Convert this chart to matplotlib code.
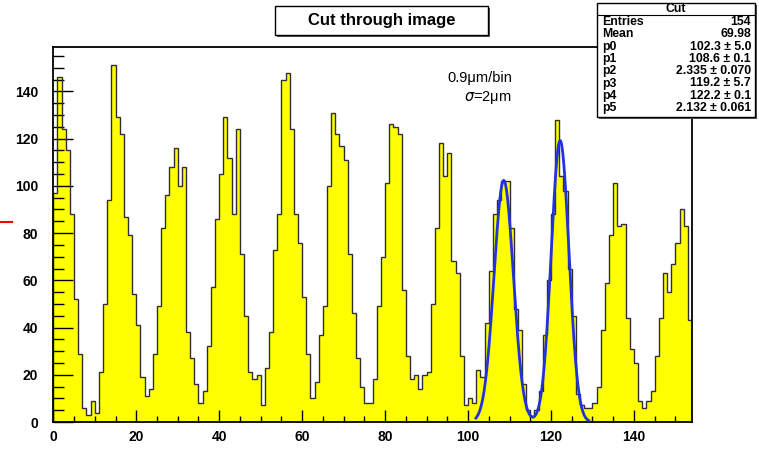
import numpy as np
import matplotlib
matplotlib.use("Agg")
import matplotlib.pyplot as plt
from matplotlib.patches import Rectangle
from matplotlib.lines import Line2D
from matplotlib.ticker import MultipleLocator

# ---------------- data ----------------
bin_edges = np.arange(0, 155, 1)  # 154 bins of width 1
counts = [97, 146, 124, 115, 88, 52, 29, 6, 3, 9,
          4, 21, 50, 94, 151, 129, 122, 87, 79, 54,
          41, 19, 11, 14, 29, 49, 82, 96, 108, 116,
          100, 108, 38, 27, 16, 8, 13, 32, 57, 86,
          105, 129, 112, 88, 124, 71, 45, 21, 18, 20,
          7, 23, 38, 73, 88, 145, 148, 124, 88, 76,
          53, 29, 10, 17, 37, 49, 100, 131, 122, 117,
          111, 71, 46, 27, 15, 8, 8, 18, 49, 70,
          101, 126, 125, 122, 56, 28, 18, 20, 14, 20,
          21, 50, 82, 118, 104, 114, 68, 63, 28, 7,
          10, 8, 22, 19, 42, 64, 88, 94, 102, 102,
          82, 48, 39, 16, 5, 2, 5, 13, 37, 60,
          88, 128, 104, 98, 65, 45, 12, 7, 6, 6,
          8, 15, 39, 59, 79, 101, 83, 84, 44, 31,
          25, 9, 6, 9, 13, 28, 44, 63, 55, 67,
          76, 90, 83, 43]

fit_params = [102.3, 108.6, 2.335, 119.2, 122.2, 2.132]
fit_range = [101.9, 129.1]

xticks = [0, 20, 40, 60, 80, 100, 120, 140]
yticks = [0, 20, 40, 60, 80, 100, 120, 140]

stat_labels = ["Entries", "Mean", "p0", "p1", "p2", "p3", "p4", "p5"]
stat_values = ["154", "69.98", "102.3 \u00b1 5.0", "108.6 \u00b1 0.1",
               "2.335 \u00b1 0.070", "119.2 \u00b1 5.7", "122.2 \u00b1 0.1",
               "2.132 \u00b1 0.061"]

# ---------------- figure ----------------
plt.rcParams['font.family'] = ['Liberation Sans', 'DejaVu Sans']
W, H = 759, 450
fig = plt.figure(figsize=(W / 100, H / 100), dpi=100, facecolor='white')

def fx(px):
    return px / W

def fy(py):
    return 1 - py / H

ax = fig.add_axes([fx(53.3), fy(422), fx(692) - fx(53.3), fy(47) - fy(422)])
ax.set_facecolor('white')

ax.stairs(counts, bin_edges, fill=True, facecolor='#ffff00', edgecolor='none', zorder=1)
ax.stairs(counts, bin_edges, baseline=0, fill=False, edgecolor='#303030', lw=1.0, zorder=2)

# fit curve (sum of two gaussians)
xf = np.linspace(fit_range[0], fit_range[1], 600)
p = fit_params
yf = p[0] * np.exp(-0.5 * ((xf - p[1]) / p[2]) ** 2) + p[3] * np.exp(-0.5 * ((xf - p[4]) / p[5]) ** 2)
ax.plot(xf, yf, color='#2233dd', lw=2.0, zorder=3)

ax.set_xlim(0, 154)
ax.set_ylim(0, 158.8)
ax.set_xticks(xticks)
ax.set_yticks(yticks)
ax.xaxis.set_minor_locator(MultipleLocator(5))
ax.yaxis.set_minor_locator(MultipleLocator(5))
ax.tick_params(axis='y', which='major', direction='in', length=14.4, width=1.0, pad=11)
ax.tick_params(axis='y', which='minor', direction='in', length=8, width=1.0)
ax.tick_params(axis='x', which='major', direction='in', length=8.6, width=1.0, pad=6)
ax.tick_params(axis='x', which='minor', direction='in', length=4.3, width=1.0)
for lab in ax.get_xticklabels() + ax.get_yticklabels():
    lab.set_fontweight('bold')
    lab.set_fontsize(10)
for s in ax.spines.values():
    s.set_linewidth(1.3)
    s.set_color('black')

# annotation
fig.text(fx(512), fy(78), "0.9\u03bcm/bin", ha='right', va='center', fontsize=10.5)
fig.text(fx(512), fy(97), "$\\sigma$=2\u03bcm", ha='right', va='center', fontsize=10.5)

# title box with shadow
tb = (275, 6, 488, 35)
fig.add_artist(Rectangle((fx(tb[0] + 2), fy(tb[3] + 2)), fx(tb[2] - tb[0]), fy(tb[1]) - fy(tb[3]),
                         transform=fig.transFigure, fc='#555555', ec='none', zorder=5))
fig.add_artist(Rectangle((fx(tb[0]), fy(tb[3])), fx(tb[2] - tb[0]), fy(tb[1]) - fy(tb[3]),
                         transform=fig.transFigure, fc='white', ec='black', lw=1.0, zorder=6))
fig.text(fx((tb[0] + tb[2]) / 2), fy(20), "Cut through image", ha='center', va='center',
         fontsize=12, fontweight='bold', zorder=7)

# stats box with shadow
sb = (597, 3, 755, 117)
fig.add_artist(Rectangle((fx(sb[0] + 2), fy(sb[3] + 2)), fx(sb[2] - sb[0]), fy(sb[1]) - fy(sb[3]),
                         transform=fig.transFigure, fc='#555555', ec='none', zorder=5))
fig.add_artist(Rectangle((fx(sb[0]), fy(sb[3])), fx(sb[2] - sb[0]), fy(sb[1]) - fy(sb[3]),
                         transform=fig.transFigure, fc='white', ec='black', lw=1.0, zorder=6))
fig.add_artist(Line2D([fx(sb[0]), fx(sb[2])], [fy(15), fy(15)], transform=fig.transFigure,
                      color='black', lw=0.8, zorder=7))
fig.text(fx((sb[0] + sb[2]) / 2), fy(9), "Cut", ha='center', va='center', fontsize=8.8,
         fontweight='bold', zorder=7)
row_y0, row_dy = 22, 12.3
for i, (lab, val) in enumerate(zip(stat_labels, stat_values)):
    y = row_y0 + i * row_dy
    fig.text(fx(602), fy(y), lab, ha='left', va='center', fontsize=8.8, fontweight='bold', zorder=7)
    fig.text(fx(751), fy(y), val, ha='right', va='center', fontsize=8.8, fontweight='bold', zorder=7)

# small red mark at left edge
fig.add_artist(Line2D([fx(0), fx(12)], [fy(222), fy(222)], transform=fig.transFigure,
                      color='red', lw=1.5))

fig.savefig("out.png", dpi=100, facecolor='white')
